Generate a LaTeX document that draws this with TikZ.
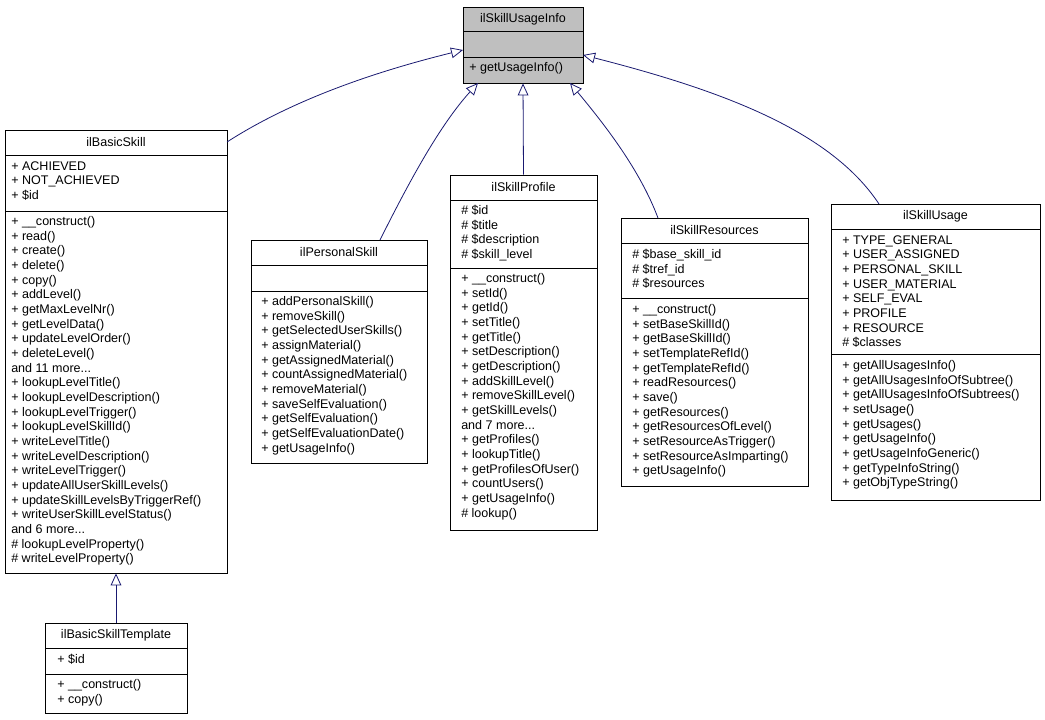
\documentclass[tikz,border=0pt]{standalone}
\usepackage{fontspec}
\setmainfont{Liberation Sans}
\usetikzlibrary{arrows.meta,fit}
\definecolor{edgeblue}{HTML}{191970}
\definecolor{infogray}{HTML}{BFBFBF}
\newcommand{\sectionbox}[5]{\node[sec, fit={(#2,#3) (#4,#5)}] (#1) {};}
\begin{document}
\begin{tikzpicture}[x=0.75pt,y=-0.75pt]
    \tikzstyle{sec}=[draw=black, inner sep=0pt, line width=0.6pt]
    \tikzstyle{title}=[font=\fontsize{9.4}{11}\selectfont, inner sep=0pt]
    \tikzstyle{members}=[font=\fontsize{9.4}{11}\selectfont, align=left, anchor=north west, inner sep=0pt]
    \tikzstyle{inherit}=[draw=edgeblue, line width=0.6pt, -{Triangle[open,length=9pt,width=8pt]}]
    \useasboundingbox (0,0) rectangle (1045,720);

    % ilSkillUsageInfo
    \sectionbox{info}{463}{7}{583}{31}
    \node[sec, fill=infogray, fit={(463,7) (583,83)}] (info-bg) {};
    \draw (463,31) -- (583,31) (463,57) -- (583,57);
    \node[title] (info-t) at (523,19) {ilSkillUsageInfo};
    \node[members] (info-m) at (469,62) {+ getUsageInfo()};

    % ilBasicSkill
    \sectionbox{bs}{5}{130}{227}{155}
    \sectionbox{bs-a}{5}{155}{227}{211}
    \sectionbox{bs-o}{5}{211}{227}{573}
    \node[title] (bs-t) at (116,142.5) {ilBasicSkill};
    \node[members] (bs-al) at (11,161) {+ ACHIEVED\\+ NOT\_ACHIEVED\\+ \$id};
    \node[members] (bs-ol) at (11,216) {+ \_\_construct()\\+ read()\\+ create()\\+ delete()\\+ copy()\\+ addLevel()\\+ getMaxLevelNr()\\+ getLevelData()\\+ updateLevelOrder()\\+ deleteLevel()\\and 11 more...\\+ lookupLevelTitle()\\+ lookupLevelDescription()\\+ lookupLevelTrigger()\\+ lookupLevelSkillId()\\+ writeLevelTitle()\\+ writeLevelDescription()\\+ writeLevelTrigger()\\+ updateAllUserSkillLevels()\\+ updateSkillLevelsByTriggerRef()\\+ writeUserSkillLevelStatus()\\and 6 more...\\\# lookupLevelProperty()\\\# writeLevelProperty()};

    % ilBasicSkillTemplate
    \sectionbox{bst}{45}{623}{187}{648}
    \sectionbox{bst-a}{45}{648}{187}{674}
    \sectionbox{bst-o}{45}{674}{187}{713}
    \node[title] (bst-t) at (116,635.5) {ilBasicSkillTemplate};
    \node[members] (bst-al) at (57,654) {+ \$id};
    \node[members] (bst-ol) at (57,679) {+ \_\_construct()\\+ copy()};

    % ilPersonalSkill
    \sectionbox{ps}{251}{240}{427}{265}
    \sectionbox{ps-a}{251}{265}{427}{291}
    \sectionbox{ps-o}{251}{291}{427}{463}
    \node[title] (ps-t) at (339,252.5) {ilPersonalSkill};
    \node[members] (ps-ol) at (261,296) {+ addPersonalSkill()\\+ removeSkill()\\+ getSelectedUserSkills()\\+ assignMaterial()\\+ getAssignedMaterial()\\+ countAssignedMaterial()\\+ removeMaterial()\\+ saveSelfEvaluation()\\+ getSelfEvaluation()\\+ getSelfEvaluationDate()\\+ getUsageInfo()};

    % ilSkillProfile
    \sectionbox{sp}{450}{175}{597}{200}
    \sectionbox{sp-a}{450}{200}{597}{268}
    \sectionbox{sp-o}{450}{268}{597}{530}
    \node[title] (sp-t) at (523.5,187.5) {ilSkillProfile};
    \node[members] (sp-al) at (461,205) {\# \$id\\\# \$title\\\# \$description\\\# \$skill\_level};
    \node[members] (sp-ol) at (461,273) {+ \_\_construct()\\+ setId()\\+ getId()\\+ setTitle()\\+ getTitle()\\+ setDescription()\\+ getDescription()\\+ addSkillLevel()\\+ removeSkillLevel()\\+ getSkillLevels()\\and 7 more...\\+ getProfiles()\\+ lookupTitle()\\+ getProfilesOfUser()\\+ countUsers()\\+ getUsageInfo()\\\# lookup()};

    % ilSkillResources
    \sectionbox{sr}{621}{218}{808}{243}
    \sectionbox{sr-a}{621}{243}{808}{298}
    \sectionbox{sr-o}{621}{298}{808}{486}
    \node[title] (sr-t) at (714.5,230.5) {ilSkillResources};
    \node[members] (sr-al) at (632,249) {\# \$base\_skill\_id\\\# \$tref\_id\\\# \$resources};
    \node[members] (sr-ol) at (632,304) {+ \_\_construct()\\+ setBaseSkillId()\\+ getBaseSkillId()\\+ setTemplateRefId()\\+ getTemplateRefId()\\+ readResources()\\+ save()\\+ getResources()\\+ getResourcesOfLevel()\\+ setResourceAsTrigger()\\+ setResourceAsImparting()\\+ getUsageInfo()};

    % ilSkillUsage
    \sectionbox{su}{831}{204}{1040}{229}
    \sectionbox{su-a}{831}{229}{1040}{354}
    \sectionbox{su-o}{831}{354}{1040}{500}
    \node[title] (su-t) at (935.5,216.5) {ilSkillUsage};
    \node[members] (su-al) at (842,235) {+ TYPE\_GENERAL\\+ USER\_ASSIGNED\\+ PERSONAL\_SKILL\\+ USER\_MATERIAL\\+ SELF\_EVAL\\+ PROFILE\\+ RESOURCE\\\# \$classes};
    \node[members] (su-ol) at (842,360) {+ getAllUsagesInfo()\\+ getAllUsagesInfoOfSubtree()\\+ getAllUsagesInfoOfSubtrees()\\+ setUsage()\\+ getUsages()\\+ getUsageInfo()\\+ getUsageInfoGeneric()\\+ getTypeInfoString()\\+ getObjTypeString()};

    % Inheritance
    \coordinate (bs-in) at (227,142);
    \coordinate (ps-in) at (380,240);
    \coordinate (sr-in) at (658,218);
    \coordinate (su-in) at (879,204);
    \coordinate (info-bs) at (463,50);
    \coordinate (info-ps) at (478,83);
    \coordinate (info-sr) at (570,83);
    \coordinate (info-su) at (583,55);
    \draw[inherit] (bs-in) .. controls (300,95) and (390,68) .. (info-bs);
    \draw[inherit] (ps-in) .. controls (410,180) and (440,125) .. (info-ps);
    \draw[inherit] (sp.north) -- (info-bg.south);
    \draw[inherit] (sr-in) .. controls (640,170) and (605,125) .. (info-sr);
    \draw[inherit] (su-in) .. controls (830,130) and (720,90) .. (info-su);
    \draw[inherit] (bst.north) -- (bs-o.south);
\end{tikzpicture}
\end{document}
